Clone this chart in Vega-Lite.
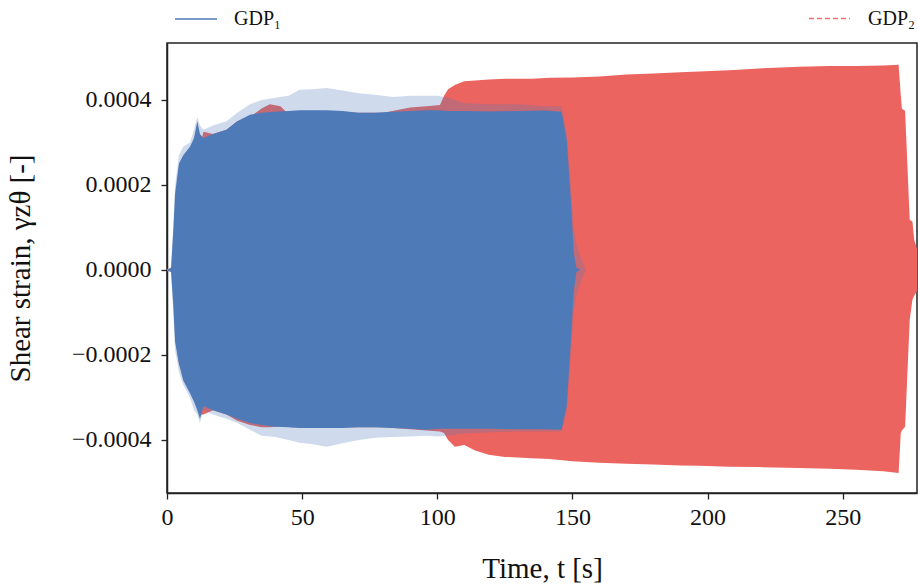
{
  "$schema": "https://vega.github.io/schema/vega-lite/v6.json",
  "width": 750,
  "height": 450,
  "autosize": "none",
  "padding": {"left": 167, "top": 43, "right": 1, "bottom": 94},
  "background": "white",
  "config": {
    "view": {"stroke": "#222222", "strokeWidth": 1.5},
    "font": "Liberation Serif",
    "axis": {
      "labelFont": "Liberation Serif",
      "titleFont": "Liberation Serif",
      "labelFontSize": 24,
      "titleFontSize": 29,
      "titleFontWeight": "normal",
      "labelColor": "#111111",
      "titleColor": "#111111",
      "domainColor": "#222222",
      "domainWidth": 1.5,
      "tickColor": "#222222",
      "tickWidth": 1.3,
      "tickSize": 6,
      "grid": false
    },
    "legend": {"labelFont": "Liberation Serif", "labelFontSize": 20, "labelColor": "#111111"}
  },
  "datasets": {
    "gdp1": [
      {"series": "GDP₁", "t": 0, "hi": 0, "lo": 0, "hi_peak": 0, "lo_peak": 0},
      {"series": "GDP₁", "t": 1.5, "hi": 0.000005, "lo": -0.000005, "hi_peak": 0.000006, "lo_peak": -0.000006},
      {"series": "GDP₁", "t": 2.3, "hi": 0.00009, "lo": -0.00008, "hi_peak": 0.0001, "lo_peak": -0.0001},
      {"series": "GDP₁", "t": 3, "hi": 0.00018, "lo": -0.00017, "hi_peak": 0.0002, "lo_peak": -0.00019},
      {"series": "GDP₁", "t": 4.4, "hi": 0.00025, "lo": -0.00022, "hi_peak": 0.00027, "lo_peak": -0.00024},
      {"series": "GDP₁", "t": 6, "hi": 0.00027, "lo": -0.00026, "hi_peak": 0.00029, "lo_peak": -0.00027},
      {"series": "GDP₁", "t": 8.5, "hi": 0.00029, "lo": -0.00029, "hi_peak": 0.0003, "lo_peak": -0.0003},
      {"series": "GDP₁", "t": 10, "hi": 0.00031, "lo": -0.00031, "hi_peak": 0.00033, "lo_peak": -0.00033},
      {"series": "GDP₁", "t": 11.2, "hi": 0.00035, "lo": -0.00033, "hi_peak": 0.00036, "lo_peak": -0.00034},
      {"series": "GDP₁", "t": 12.2, "hi": 0.00032, "lo": -0.00035, "hi_peak": 0.00034, "lo_peak": -0.00036},
      {"series": "GDP₁", "t": 13.5, "hi": 0.00031, "lo": -0.00032, "hi_peak": 0.00033, "lo_peak": -0.00033},
      {"series": "GDP₁", "t": 17, "hi": 0.00032, "lo": -0.00033, "hi_peak": 0.00034, "lo_peak": -0.00034},
      {"series": "GDP₁", "t": 22, "hi": 0.00033, "lo": -0.00034, "hi_peak": 0.00035, "lo_peak": -0.00035},
      {"series": "GDP₁", "t": 26, "hi": 0.00035, "lo": -0.00035, "hi_peak": 0.00037, "lo_peak": -0.00036},
      {"series": "GDP₁", "t": 30.7, "hi": 0.000365, "lo": -0.00036, "hi_peak": 0.00039, "lo_peak": -0.000376},
      {"series": "GDP₁", "t": 35, "hi": 0.00037, "lo": -0.000365, "hi_peak": 0.0004, "lo_peak": -0.00039},
      {"series": "GDP₁", "t": 40, "hi": 0.000372, "lo": -0.000369, "hi_peak": 0.000405, "lo_peak": -0.000393},
      {"series": "GDP₁", "t": 45, "hi": 0.000374, "lo": -0.00037, "hi_peak": 0.00041, "lo_peak": -0.0004},
      {"series": "GDP₁", "t": 49, "hi": 0.000376, "lo": -0.000372, "hi_peak": 0.000424, "lo_peak": -0.000407},
      {"series": "GDP₁", "t": 54, "hi": 0.000376, "lo": -0.000372, "hi_peak": 0.000425, "lo_peak": -0.00041},
      {"series": "GDP₁", "t": 59, "hi": 0.000376, "lo": -0.000372, "hi_peak": 0.000428, "lo_peak": -0.000416},
      {"series": "GDP₁", "t": 65, "hi": 0.000374, "lo": -0.000372, "hi_peak": 0.000422, "lo_peak": -0.000408},
      {"series": "GDP₁", "t": 71, "hi": 0.00037, "lo": -0.00037, "hi_peak": 0.000416, "lo_peak": -0.0004},
      {"series": "GDP₁", "t": 77, "hi": 0.00037, "lo": -0.00037, "hi_peak": 0.000412, "lo_peak": -0.000395},
      {"series": "GDP₁", "t": 83.5, "hi": 0.000372, "lo": -0.000372, "hi_peak": 0.000407, "lo_peak": -0.000393},
      {"series": "GDP₁", "t": 90, "hi": 0.000374, "lo": -0.000374, "hi_peak": 0.00041, "lo_peak": -0.000392},
      {"series": "GDP₁", "t": 96, "hi": 0.000376, "lo": -0.000376, "hi_peak": 0.00041, "lo_peak": -0.00039},
      {"series": "GDP₁", "t": 100, "hi": 0.000376, "lo": -0.000374, "hi_peak": 0.00041, "lo_peak": -0.000392},
      {"series": "GDP₁", "t": 104, "hi": 0.000374, "lo": -0.000374, "hi_peak": 0.000405, "lo_peak": -0.00039},
      {"series": "GDP₁", "t": 110, "hi": 0.000374, "lo": -0.000374, "hi_peak": 0.000392, "lo_peak": -0.000385},
      {"series": "GDP₁", "t": 120, "hi": 0.000373, "lo": -0.000374, "hi_peak": 0.00039, "lo_peak": -0.000382},
      {"series": "GDP₁", "t": 130, "hi": 0.000374, "lo": -0.000375, "hi_peak": 0.00039, "lo_peak": -0.00038},
      {"series": "GDP₁", "t": 140, "hi": 0.000375, "lo": -0.000375, "hi_peak": 0.000385, "lo_peak": -0.00038},
      {"series": "GDP₁", "t": 146, "hi": 0.000372, "lo": -0.000376, "hi_peak": 0.000385, "lo_peak": -0.00038},
      {"series": "GDP₁", "t": 147.9, "hi": 0.000306, "lo": -0.00032, "hi_peak": 0.00032, "lo_peak": -0.00033},
      {"series": "GDP₁", "t": 149.4, "hi": 0.000165, "lo": -0.00017, "hi_peak": 0.0002, "lo_peak": -0.0002},
      {"series": "GDP₁", "t": 150.5, "hi": 0.00004, "lo": -0.00005, "hi_peak": 0.0001, "lo_peak": -0.0001},
      {"series": "GDP₁", "t": 151.5, "hi": 0.000005, "lo": -0.000005, "hi_peak": 0.00006, "lo_peak": -0.00006},
      {"series": "GDP₁", "t": 153, "hi": 0, "lo": 0, "hi_peak": 0.00003, "lo_peak": -0.00003},
      {"series": "GDP₁", "t": 155, "hi": 0, "lo": 0, "hi_peak": 0, "lo_peak": 0}
    ],
    "gdp2": [
      {"series": "GDP₂", "t": 0, "hi": 0.000003, "lo": -0.000003},
      {"series": "GDP₂", "t": 2, "hi": 0.000003, "lo": -0.000003},
      {"series": "GDP₂", "t": 3, "hi": 0.00015, "lo": -0.00015},
      {"series": "GDP₂", "t": 4.4, "hi": 0.00024, "lo": -0.00022},
      {"series": "GDP₂", "t": 6, "hi": 0.00026, "lo": -0.00025},
      {"series": "GDP₂", "t": 8.5, "hi": 0.00028, "lo": -0.00027},
      {"series": "GDP₂", "t": 11, "hi": 0.00033, "lo": -0.00032},
      {"series": "GDP₂", "t": 12.5, "hi": 0.0003, "lo": -0.00034},
      {"series": "GDP₂", "t": 13.5, "hi": 0.000325, "lo": -0.00034},
      {"series": "GDP₂", "t": 17, "hi": 0.00032, "lo": -0.00033},
      {"series": "GDP₂", "t": 22, "hi": 0.00033, "lo": -0.00034},
      {"series": "GDP₂", "t": 26, "hi": 0.00035, "lo": -0.000355},
      {"series": "GDP₂", "t": 30.7, "hi": 0.00036, "lo": -0.000365},
      {"series": "GDP₂", "t": 35, "hi": 0.00038, "lo": -0.00037},
      {"series": "GDP₂", "t": 38, "hi": 0.00039, "lo": -0.00037},
      {"series": "GDP₂", "t": 42, "hi": 0.000385, "lo": -0.000368},
      {"series": "GDP₂", "t": 46, "hi": 0.00036, "lo": -0.00037},
      {"series": "GDP₂", "t": 60, "hi": 0.00037, "lo": -0.00037},
      {"series": "GDP₂", "t": 80, "hi": 0.00037, "lo": -0.00037},
      {"series": "GDP₂", "t": 90, "hi": 0.000382, "lo": -0.000375},
      {"series": "GDP₂", "t": 96, "hi": 0.000385, "lo": -0.000378},
      {"series": "GDP₂", "t": 101, "hi": 0.000388, "lo": -0.00038},
      {"series": "GDP₂", "t": 102.5, "hi": 0.00041, "lo": -0.000384},
      {"series": "GDP₂", "t": 104, "hi": 0.000425, "lo": -0.0004},
      {"series": "GDP₂", "t": 106.5, "hi": 0.000435, "lo": -0.000416},
      {"series": "GDP₂", "t": 110, "hi": 0.000444, "lo": -0.000412},
      {"series": "GDP₂", "t": 114, "hi": 0.000446, "lo": -0.000425},
      {"series": "GDP₂", "t": 119, "hi": 0.000448, "lo": -0.000435},
      {"series": "GDP₂", "t": 125, "hi": 0.00045, "lo": -0.00044},
      {"series": "GDP₂", "t": 135, "hi": 0.00045, "lo": -0.000443},
      {"series": "GDP₂", "t": 141.6, "hi": 0.000452, "lo": -0.000445},
      {"series": "GDP₂", "t": 150, "hi": 0.000453, "lo": -0.00045},
      {"series": "GDP₂", "t": 160, "hi": 0.000455, "lo": -0.000454},
      {"series": "GDP₂", "t": 170, "hi": 0.00046, "lo": -0.000456},
      {"series": "GDP₂", "t": 180, "hi": 0.000462, "lo": -0.000458},
      {"series": "GDP₂", "t": 190, "hi": 0.000465, "lo": -0.00046},
      {"series": "GDP₂", "t": 197, "hi": 0.000467, "lo": -0.000461},
      {"series": "GDP₂", "t": 208, "hi": 0.00047, "lo": -0.000463},
      {"series": "GDP₂", "t": 219, "hi": 0.000474, "lo": -0.000464},
      {"series": "GDP₂", "t": 234, "hi": 0.000478, "lo": -0.000466},
      {"series": "GDP₂", "t": 245, "hi": 0.00048, "lo": -0.000468},
      {"series": "GDP₂", "t": 255, "hi": 0.00048, "lo": -0.00047},
      {"series": "GDP₂", "t": 265, "hi": 0.000481, "lo": -0.000474},
      {"series": "GDP₂", "t": 270.7, "hi": 0.000483, "lo": -0.000478},
      {"series": "GDP₂", "t": 271.5, "hi": 0.00041, "lo": -0.000384},
      {"series": "GDP₂", "t": 271.9, "hi": 0.00038, "lo": -0.000378},
      {"series": "GDP₂", "t": 273.1, "hi": 0.000374, "lo": -0.000369},
      {"series": "GDP₂", "t": 274.8, "hi": 0.000118, "lo": -0.000118},
      {"series": "GDP₂", "t": 275.8, "hi": 0.000114, "lo": -0.00007},
      {"series": "GDP₂", "t": 276.5, "hi": 0.00007, "lo": -0.00006},
      {"series": "GDP₂", "t": 277.5, "hi": 0.00005, "lo": -0.00005}
    ]
  },
  "encoding": {
    "x": {
      "field": "t",
      "type": "quantitative",
      "scale": {"domain": [0, 277.5], "nice": false, "zero": false},
      "axis": {"values": [0, 50, 100, 150, 200, 250], "title": "Time, t [s]", "labelPadding": 6, "titlePadding": 25, "labelFlush": false}
    }
  },
  "layer": [
    {
      "data": {"name": "gdp2"},
      "mark": {"type": "area", "interpolate": "linear", "clip": true},
      "encoding": {
        "y": {
          "field": "hi",
          "type": "quantitative",
          "scale": {"domain": [-0.000525, 0.000534], "nice": false, "zero": false},
          "axis": {"values": [-0.0004, -0.0002, 0, 0.0002, 0.0004], "format": ".4f", "title": "Shear strain, γzθ [-]", "labelPadding": 10, "titlePadding": 36}
        },
        "y2": {"field": "lo"},
        "color": {
          "field": "series",
          "type": "nominal",
          "scale": {"domain": ["GDP₂"], "range": ["#EC6460"]},
          "legend": {
            "title": null,
            "orient": "none",
            "legendX": 641,
            "legendY": -46,
            "padding": 0,
            "symbolType": "stroke",
            "symbolSize": 1681,
            "labelOffset": 17,
            "symbolStrokeColor": "#F07070",
            "symbolStrokeWidth": 1.5,
            "symbolDash": [5, 3],
            "symbolOpacity": 1,
            "encode": {"symbols": {"update": {"stroke": {"value": "#F07070"}, "strokeWidth": {"value": 1.5}, "strokeDash": {"value": [5, 3]}, "fill": {"value": "transparent"}, "opacity": {"value": 1}}}}
          }
        }
      }
    },
    {
      "data": {"name": "gdp1"},
      "mark": {"type": "area", "interpolate": "linear", "opacity": 0.27, "clip": true},
      "encoding": {
        "y": {"field": "hi_peak", "type": "quantitative"},
        "y2": {"field": "lo_peak"},
        "fill": {
          "field": "series",
          "type": "nominal",
          "scale": {"domain": ["GDP₁"], "range": ["#4E7AB8"]},
          "legend": {
            "title": null,
            "orient": "none",
            "legendX": 7,
            "legendY": -46,
            "padding": 0,
            "symbolType": "stroke",
            "symbolSize": 1764,
            "labelOffset": 16,
            "symbolStrokeColor": "#4E7AB8",
            "symbolStrokeWidth": 1.5,
            "symbolOpacity": 1,
            "encode": {"symbols": {"update": {"stroke": {"value": "#4E7AB8"}, "strokeWidth": {"value": 1.5}, "fill": {"value": "transparent"}, "opacity": {"value": 1}}}}
          }
        }
      }
    },
    {
      "data": {"name": "gdp1"},
      "mark": {"type": "area", "interpolate": "linear", "clip": true},
      "encoding": {
        "y": {"field": "hi", "type": "quantitative"},
        "y2": {"field": "lo"},
        "fill": {"field": "series", "type": "nominal"}
      }
    }
  ]
}
